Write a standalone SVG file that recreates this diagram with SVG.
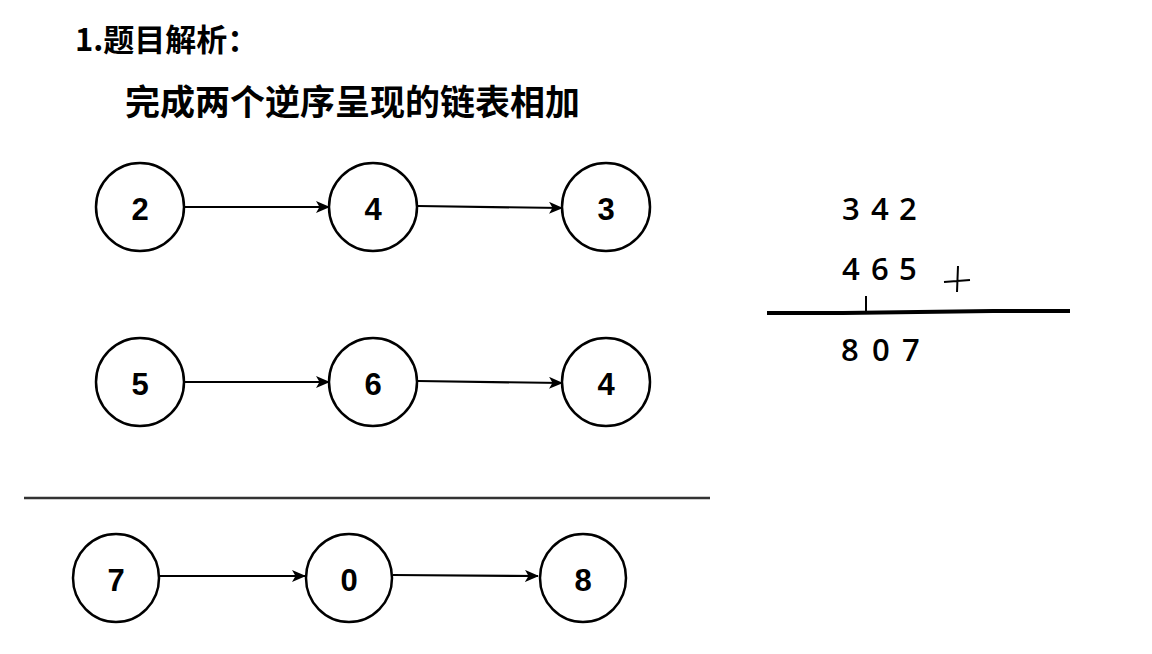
<svg xmlns="http://www.w3.org/2000/svg" width="1152" height="654" viewBox="0 0 1152 654">
<defs>
<marker id="ah" viewBox="0 0 14 12" refX="13" refY="6" markerWidth="14" markerHeight="12" markerUnits="userSpaceOnUse" orient="auto"><path d="M0,0 L14,6 L0,12 L3.5,6 Z" fill="#000"/></marker>
<style>
.n{fill:#fff;stroke:#000;stroke-width:2.5}
.t{font-family:"Liberation Sans",Arial,sans-serif;font-weight:bold;font-size:31px;text-anchor:middle;dominant-baseline:central}
.c{stroke:#000;stroke-width:2.2;fill:none;marker-end:url(#ah)}
.h{font-family:"Noto Sans CJK SC",sans-serif;font-weight:bold;fill:#000}
.d{font-family:"Open Sans","DejaVu Sans",sans-serif;font-size:31px;font-weight:600;fill:#000}
</style>
</defs>
<rect width="1152" height="654" fill="#fff"/>
<text class="h" x="75" y="51" font-size="31">1.题目解析：</text>
<text class="h" x="125" y="115" font-size="35">完成两个逆序呈现的链表相加</text>
<g id="connectors">
<line class="c" x1="185" y1="207" x2="329" y2="207"/>
<line class="c" x1="418" y1="206" x2="562" y2="208"/>
<line class="c" x1="185" y1="382" x2="329" y2="382"/>
<line class="c" x1="418" y1="381" x2="562" y2="383"/>
<line class="c" x1="160" y1="576" x2="305" y2="576"/>
<line class="c" x1="393" y1="575" x2="538" y2="576"/>
</g>
<g id="n2"><ellipse class="n" cx="140" cy="207" rx="44" ry="44"/><text class="t" x="140" y="209">2</text></g>
<g id="n4a"><ellipse class="n" cx="373" cy="207" rx="44" ry="44"/><text class="t" x="373" y="209">4</text></g>
<g id="n3"><ellipse class="n" cx="606" cy="207" rx="44" ry="44"/><text class="t" x="606" y="209">3</text></g>
<g id="n5"><ellipse class="n" cx="140" cy="382" rx="44" ry="44"/><text class="t" x="140" y="384">5</text></g>
<g id="n6"><ellipse class="n" cx="373" cy="382" rx="44" ry="44"/><text class="t" x="373" y="384">6</text></g>
<g id="n4b"><ellipse class="n" cx="606" cy="382" rx="44" ry="44"/><text class="t" x="606" y="384">4</text></g>
<line x1="24" y1="498" x2="710" y2="498" stroke="#333" stroke-width="2.5"/>
<g id="n7"><ellipse class="n" cx="116" cy="578" rx="43" ry="44"/><text class="t" x="116" y="580">7</text></g>
<g id="n0"><ellipse class="n" cx="349" cy="578" rx="43" ry="44"/><text class="t" x="349" y="580">0</text></g>
<g id="n8"><ellipse class="n" cx="583" cy="578" rx="43" ry="44"/><text class="t" x="583" y="580">8</text></g>
<g id="calc">
<text class="d" y="220"><tspan x="842">3</tspan><tspan x="871">4</tspan><tspan x="899">2</tspan></text>
<text class="d" y="280"><tspan x="842">4</tspan><tspan x="871">6</tspan><tspan x="899">5</tspan></text>
<text class="d" y="361"><tspan x="841">8</tspan><tspan x="872">0</tspan><tspan x="902">7</tspan></text>
<path d="M944,282 L970,280 M958,266 L957,292" stroke="#000" stroke-width="2" fill="none"/>
<path d="M767,313 L843,313 L993,311 L1070,311" stroke="#000" stroke-width="4" fill="none"/>
<path d="M866,296 L866,311" stroke="#000" stroke-width="2"/>
</g>
</svg>
